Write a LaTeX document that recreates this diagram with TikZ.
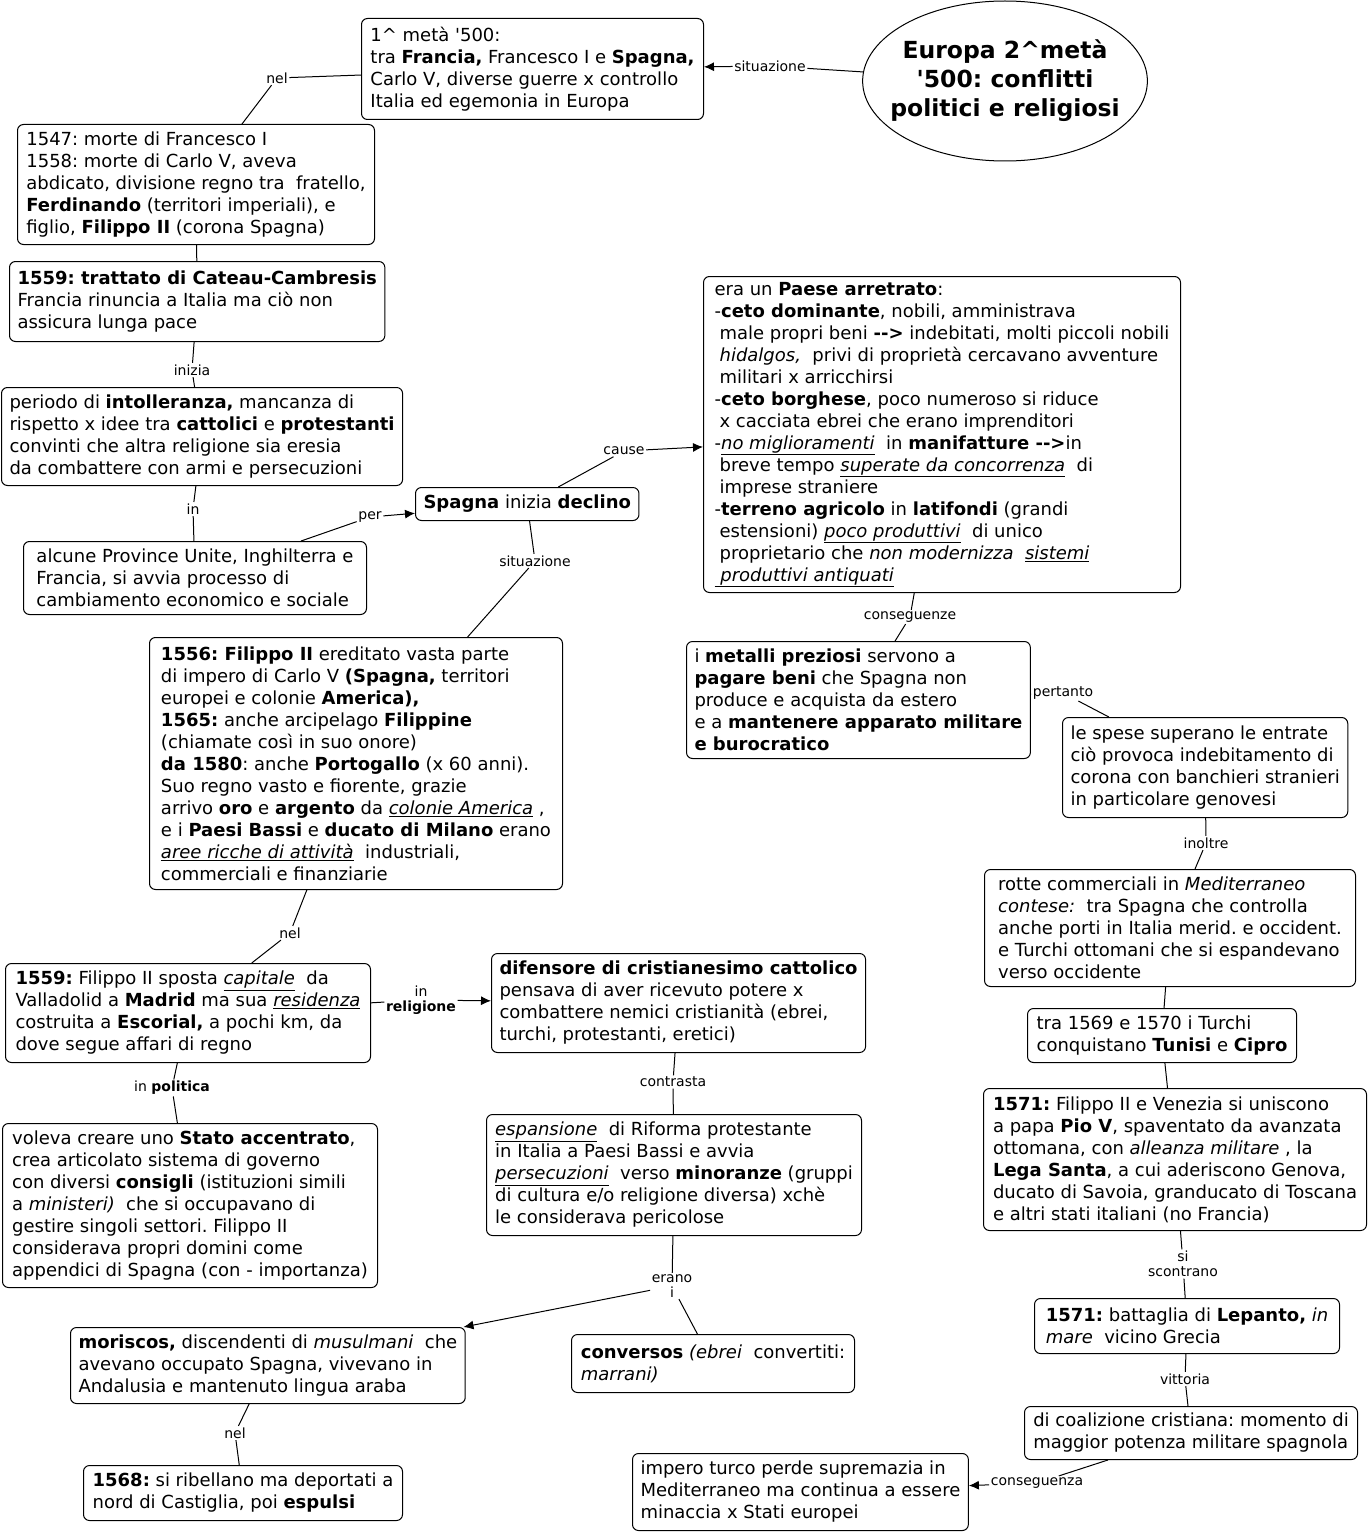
\documentclass[tikz,border=0pt]{standalone}
\usepackage{fontspec}
\setmainfont{DejaVu Sans}[Ligatures=TeXOff]
\frenchspacing
\usetikzlibrary{arrows.meta,shapes.geometric}
\definecolor{inkdark}{HTML}{000000}
\newcommand{\ind}{\hspace*{5pt}}
\newcommand{\uit}[1]{\underline{\textit{#1}}}
\tikzset{
  conceptbox/.style={draw=inkdark,line width=1pt,rounded corners=6pt,anchor=north west,
    align=left,inner xsep=8pt,inner ysep=4pt,font=\fontsize{18}{22}\selectfont},
  linkword/.style={inner sep=1.5pt,align=center,font=\fontsize{14}{15}\selectfont},
  topicellipse/.style={draw=inkdark,line width=1pt,ellipse,minimum height=160pt,
    inner xsep=-14pt,inner ysep=0pt,align=center,font=\fontsize{23.5}{29}\selectfont\bfseries},
  linkline/.style={draw=inkdark,line width=1pt},
  linkarrow/.style={linkline,-{Latex[length=10pt,width=9pt]}}
}

\begin{document}
\begin{tikzpicture}[x=1pt,y=-1pt]
  \useasboundingbox (0,0) rectangle (1369,1533);

  % concepts
  \node[topicellipse] (topic) at (1005,81) {Europa 2\textasciicircum metà\\'500: conflitti\\politici e religiosi};
  \node[conceptbox,minimum width=342pt,minimum height=101pt] (half) at (361,18) {1\textasciicircum{} metà '500:\\tra \textbf{Francia,} Francesco I e \textbf{Spagna,}\\Carlo V, diverse guerre x controllo\\Italia ed egemonia in Europa};
  \node[conceptbox,minimum width=357pt,minimum height=120pt] (deaths) at (17,124) {1547: morte di Francesco I\\1558: morte di Carlo V, aveva\\abdicato, divisione regno tra \ fratello,\\\textbf{Ferdinando} (territori imperiali), e\\figlio, \textbf{Filippo II} (corona Spagna)};
  \node[conceptbox,minimum width=372pt,minimum height=80pt] (cateau) at (9,261) {\textbf{1559: trattato di Cateau-Cambresis}\\Francia rinuncia a Italia ma ciò non\\assicura lunga pace};
  \node[conceptbox,minimum width=400pt,minimum height=98pt] (intoll) at (1,387) {periodo di \textbf{intolleranza,} mancanza di\\rispetto x idee tra \textbf{cattolici} e \textbf{protestanti}\\convinti che altra religione sia eresia\\da combattere con armi e persecuzioni};
  \node[conceptbox,minimum width=343pt,minimum height=73pt] (province) at (23,541) {alcune Province Unite, Inghilterra e\\Francia, si avvia processo di\\cambiamento economico e sociale};
  \node[conceptbox,minimum width=223pt,minimum height=33pt] (declino) at (415,487) {\textbf{Spagna} inizia \textbf{declino}};
  \node[conceptbox,minimum width=477pt,minimum height=316pt] (arretrato) at (703,276) {era un \textbf{Paese arretrato}:\\-\textbf{ceto dominante}, nobili, amministrava\\\ind male propri beni \textbf{-->} indebitati, molti piccoli nobili\\\ind\textit{hidalgos,} \ privi di proprietà cercavano avventure\\\ind militari x arricchirsi\\-\textbf{ceto borghese}, poco numeroso si riduce\\\ind x cacciata ebrei che erano imprenditori\\-\uit{no miglioramenti} \ in \textbf{manifatture -->}in\\\ind breve tempo \uit{superate da concorrenza} \ di\\\ind imprese straniere\\-\textbf{terreno agricolo} in \textbf{latifondi} (grandi\\\ind estensioni) \uit{poco produttivi} \ di unico\\\ind proprietario che \textit{non modernizza} \ \uit{sistemi}\\\uit{\ produttivi antiquati}};
  \node[conceptbox,minimum width=413pt,minimum height=252pt] (filippo) at (149,637) {\textbf{1556: Filippo II} ereditato vasta parte\\di impero di Carlo V \textbf{(Spagna,} territori\\europei e colonie \textbf{America),}\\\textbf{1565:} anche arcipelago \textbf{Filippine}\\(chiamate così in suo onore)\\\textbf{da 1580}: anche \textbf{Portogallo} (x 60 anni).\\Suo regno vasto e fiorente, grazie\\arrivo \textbf{oro} e \textbf{argento} da \uit{colonie America} ,\\e i \textbf{Paesi Bassi} e \textbf{ducato di Milano} erano\\\uit{aree ricche di attività} \ industriali,\\commerciali e finanziarie};
  \node[conceptbox,minimum width=341pt,minimum height=117pt] (metalli) at (686,641) {i \textbf{metalli preziosi} servono a\\\textbf{pagare beni} che Spagna non\\produce e acquista da estero\\e a \textbf{mantenere apparato militare}\\\textbf{e burocratico}};
  \node[conceptbox,minimum width=284pt,minimum height=100pt] (spese) at (1062,717) {le spese superano le entrate\\ciò provoca indebitamento di\\corona con banchieri stranieri\\in particolare genovesi};
  \node[conceptbox,minimum width=371pt,minimum height=117pt] (rotte) at (984,869) {rotte commerciali in \textit{Mediterraneo}\\\textit{contese:} \ tra Spagna che controlla\\anche porti in Italia merid. e occident.\\e Turchi ottomani che si espandevano\\verso occidente};
  \node[conceptbox,minimum width=269pt,minimum height=54pt] (tunisi) at (1027,1008) {tra 1569 e 1570 i Turchi\\conquistano \textbf{Tunisi} e \textbf{Cipro}};
  \node[conceptbox,minimum width=383pt,minimum height=142pt] (lega) at (983,1088) {\textbf{1571:} Filippo II e Venezia si uniscono\\a papa \textbf{Pio V}, spaventato da avanzata\\ottomana, con \textit{alleanza militare} , la\\\textbf{Lega Santa}, a cui aderiscono Genova,\\ducato di Savoia, granducato di Toscana\\e altri stati italiani (no Francia)};
  \node[conceptbox,minimum width=305pt,minimum height=55pt] (lepanto) at (1034,1298) {\textbf{1571:} battaglia di \textbf{Lepanto,} \textit{in}\\\textit{mare} \ vicino Grecia};
  \node[conceptbox,minimum width=333pt,minimum height=53pt] (coalizione) at (1024,1406) {di coalizione cristiana: momento di\\maggior potenza militare spagnola};
  \node[conceptbox,minimum width=335pt,minimum height=77pt] (turco) at (632,1453) {impero turco perde supremazia in\\Mediterraneo ma continua a essere\\minaccia x Stati europei};
  \node[conceptbox,minimum width=365pt,minimum height=99pt] (madrid) at (5,963) {\textbf{1559:} Filippo II sposta \uit{capitale} \ da\\Valladolid a \textbf{Madrid} ma sua \uit{residenza}\\costruita a \textbf{Escorial,} a pochi km, da\\dove segue affari di regno};
  \node[conceptbox,minimum width=371pt,minimum height=99pt] (difensore) at (491,953) {\textbf{difensore di cristianesimo cattolico}\\pensava di aver ricevuto potere x\\combattere nemici cristianità (ebrei,\\turchi, protestanti, eretici)};
  \node[conceptbox,minimum width=375pt,minimum height=164pt] (stato) at (2,1123) {voleva creare uno \textbf{Stato accentrato},\\crea articolato sistema di governo\\con diversi \textbf{consigli} (istituzioni simili\\a \textit{ministeri)} \ che si occupavano di\\gestire singoli settori. Filippo II\\considerava propri domini come\\appendici di Spagna (con - importanza)};
  \node[conceptbox,minimum width=375pt,minimum height=121pt] (riforma) at (486,1114) {\uit{espansione} \ di Riforma protestante\\in Italia a Paesi Bassi e avvia\\\uit{persecuzioni} \ verso \textbf{minoranze} (gruppi\\di cultura e/o religione diversa) xchè\\le considerava pericolose};
  \node[conceptbox,minimum width=393pt,minimum height=76pt] (moriscos) at (70,1327) {\textbf{moriscos,} discendenti di \textit{musulmani} \ che\\avevano occupato Spagna, vivevano in\\Andalusia e mantenuto lingua araba};
  \node[conceptbox,minimum width=283pt,minimum height=58pt] (conversos) at (571,1334) {\textbf{conversos} \textit{(ebrei} \ convertiti:\\\textit{marrani)}};
  \node[conceptbox,minimum width=319pt,minimum height=55pt] (espulsi) at (83,1465) {\textbf{1568:} si ribellano ma deportati a\\nord di Castiglia, poi \textbf{espulsi}};

  % linking words
  \node[linkword] (wsit) at (770,66) {situazione};
  \node[linkword] (wnel) at (277,78) {nel};
  \node[linkword] (winizia) at (192,370) {inizia};
  \node[linkword] (win) at (193,509) {in};
  \node[linkword] (wper) at (370,517) {per};
  \node[linkword] (wcause) at (624,451) {cause};
  \node[linkword] (wsitdue) at (535,561) {situazione};
  \node[linkword] (wconseg) at (910,617) {conseguenze};
  \node[linkword] (wpertanto) at (1063,693) {pertanto};
  \node[linkword] (winoltre) at (1206,843) {inoltre};
  \node[linkword] (wscontrano) at (1183,1264) {si\\scontrano};
  \node[linkword] (wvittoria) at (1185,1379) {vittoria};
  \node[linkword] (wconsegdue) at (1037,1483) {conseguenza};
  \node[linkword] (wneldue) at (290,933) {nel};
  \node[linkword] (wrelig) at (421,1000) {in\\\textbf{religione}};
  \node[linkword] (wpolit) at (172,1088) {in \textbf{politica}};
  \node[linkword] (wcontrasta) at (673,1082) {contrasta};
  \node[linkword] (werano) at (672,1286) {erano\\i};
  \node[linkword] (wneltre) at (235,1433) {nel};

  % connectors
  \draw[linkline] (topic) -- (wsit);
  \draw[linkarrow] (wsit) -- (half);
  \draw[linkline] (half) -- (wnel);
  \draw[linkline] (wnel) -- (deaths);
  \draw[linkline] (deaths) -- (cateau);
  \draw[linkline] (cateau) -- (winizia);
  \draw[linkline] (winizia) -- (intoll);
  \draw[linkline] (intoll) -- (win);
  \draw[linkline] (win) -- (province);
  \draw[linkline] (province) -- (wper);
  \draw[linkarrow] (wper) -- (declino);
  \draw[linkline] (declino) -- (wcause);
  \draw[linkarrow] (wcause) -- (arretrato);
  \draw[linkline] (declino) -- (wsitdue);
  \draw[linkline] (wsitdue) -- (filippo);
  \draw[linkline] (arretrato) -- (wconseg);
  \draw[linkline] (wconseg) -- (metalli);
  \draw[linkline] (metalli) -- (wpertanto);
  \draw[linkline] (wpertanto) -- (spese);
  \draw[linkline] (spese) -- (winoltre);
  \draw[linkline] (winoltre) -- (rotte);
  \draw[linkline] (rotte) -- (tunisi);
  \draw[linkline] (tunisi) -- (lega);
  \draw[linkline] (lega) -- (wscontrano);
  \draw[linkline] (wscontrano) -- (lepanto);
  \draw[linkline] (lepanto) -- (wvittoria);
  \draw[linkline] (wvittoria) -- (coalizione);
  \draw[linkline] (coalizione) -- (wconsegdue);
  \draw[linkarrow] (wconsegdue) -- (turco);
  \draw[linkline] (filippo) -- (wneldue);
  \draw[linkline] (wneldue) -- (madrid);
  \draw[linkline] (madrid) -- (wrelig);
  \draw[linkarrow] (wrelig) -- (difensore);
  \draw[linkline] (madrid) -- (wpolit);
  \draw[linkline] (wpolit) -- (stato);
  \draw[linkline] (difensore) -- (wcontrasta);
  \draw[linkline] (wcontrasta) -- (riforma);
  \draw[linkline] (riforma) -- (werano);
  \draw[linkarrow] (werano) -- (moriscos);
  \draw[linkline] (werano) -- (conversos);
  \draw[linkline] (moriscos) -- (wneltre);
  \draw[linkline] (wneltre) -- (espulsi);
\end{tikzpicture}
\end{document}
